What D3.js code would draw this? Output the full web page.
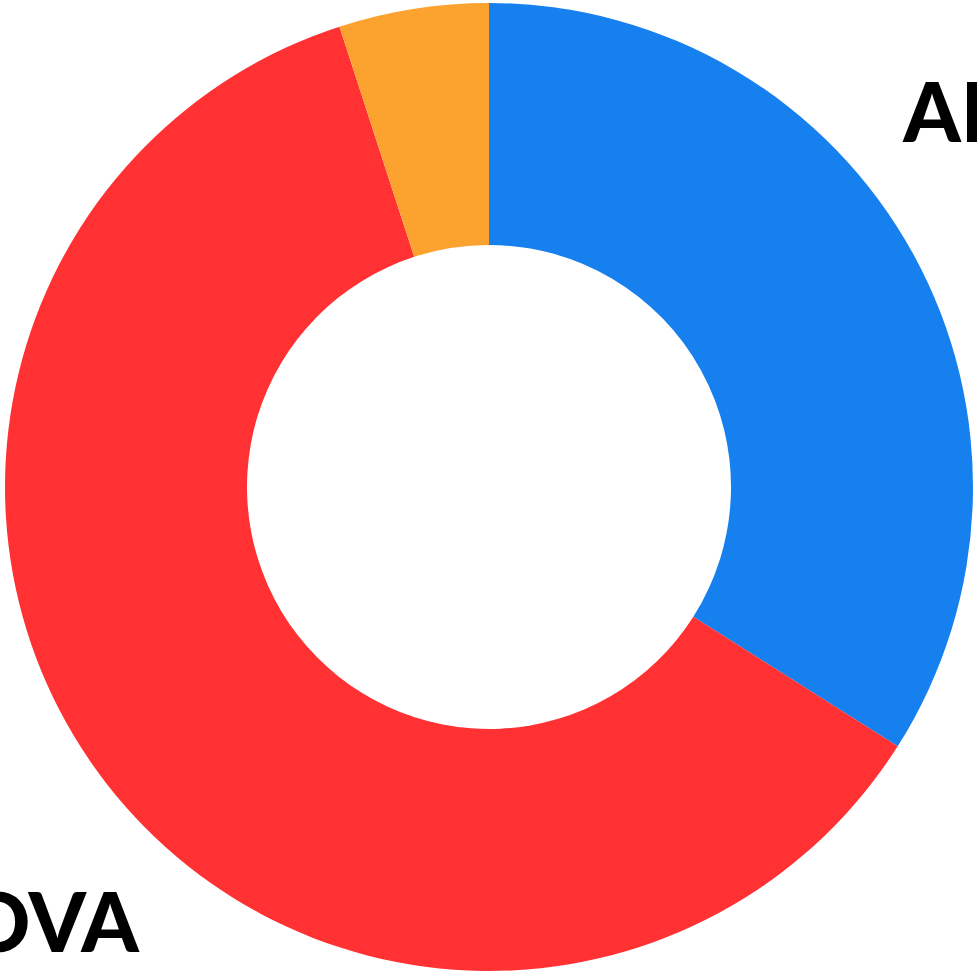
<!DOCTYPE html>
<html>
<head>
<meta charset="utf-8">
<script src="https://cdn.jsdelivr.net/npm/d3@7"></script>
<style>
  html, body { margin: 0; padding: 0; background: #fff; overflow: hidden; }
  svg { display: block; }
</style>
</head>
<body>
<div id="chart"></div>
<script>
// Chart data
const parties = ["ALIANZA", "CASANOVA", "OTROS"];
const shares = [34, 61, 5];
const colors = ["#1580ee", "#ff3133", "#fca32f"];
const labelled = [true, true, false];

const width = 977;
const height = 974;
const cx = 489, cy = 487;
const outerR = 484, innerR = 242;

const svg = d3.select("#chart")
    .append("svg")
    .attr("width", width)
    .attr("height", height);

const g = svg.append("g")
    .attr("transform", `translate(${cx},${cy})`);

const data = parties.map((p, i) => ({ party: p, value: shares[i], color: colors[i], label: labelled[i] }));

const pie = d3.pie()
    .value(d => d.value)
    .sort(null);

const arc = d3.arc()
    .innerRadius(innerR)
    .outerRadius(outerR);

const arcs = pie(data);

// Donut slices
g.selectAll("path.slice")
    .data(arcs)
    .join("path")
    .attr("class", "slice")
    .attr("d", arc)
    .attr("fill", d => d.data.color);

// Labels sit outside the ring, pushed past the edge of the frame
const labelArc = d3.arc().innerRadius(720).outerRadius(720);
// small nudges so each label lands where the original put it
const nudge = { ALIANZA: [-40, -27], CASANOVA: [-7, -5] };

g.selectAll("text.label")
    .data(arcs.filter(d => d.data.label))
    .join("text")
    .attr("class", "label")
    .attr("transform", d => {
        const [x, y] = labelArc.centroid(d);
        const [nx, ny] = nudge[d.data.party] || [0, 0];
        return `translate(${x + nx},${y + ny})`;
    })
    .attr("text-anchor", "middle")
    .attr("dy", "0.35em")
    .style("font-family", "Lato, 'Open Sans', sans-serif")
    .style("font-weight", 900)
    .style("font-size", "82px")
    .style("fill", "#000")
    .text(d => d.data.party);
</script>
</body>
</html>
